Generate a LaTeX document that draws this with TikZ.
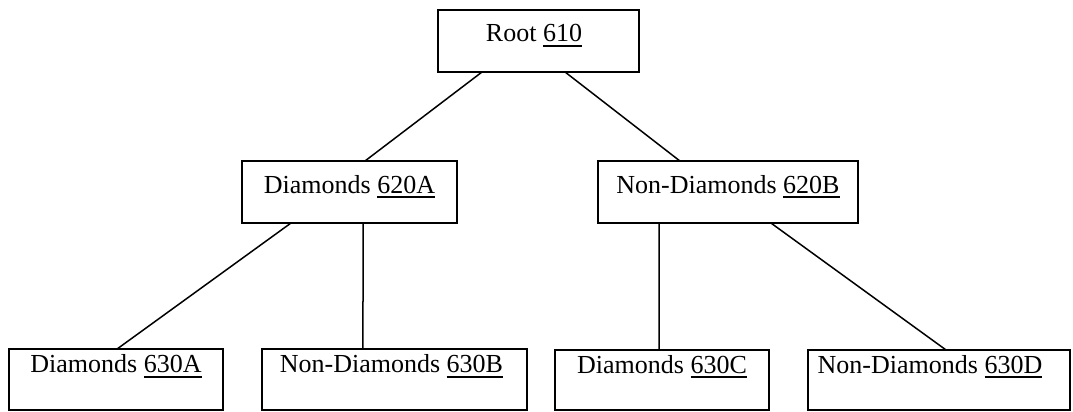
\documentclass[tikz,border=0pt]{standalone}
\usepackage{fontspec}
\setmainfont{Liberation Serif}
\usetikzlibrary{calc}

% underlined reference numeral
\newlength\refulw
\newcommand\refno[1]{\settowidth{\refulw}{#1}\rlap{\rule[-5pt]{\refulw}{1.6pt}}#1}

\tikzset{
  box/.style={draw, line width=1.8pt, rectangle, inner sep=0pt, outer sep=0pt,
    font=\fontsize{26pt}{30pt}\selectfont, text height=17pt},
  upper/.style={box, minimum height=62pt, text depth=15pt},
  lower/.style={box, minimum height=61pt, text depth=31pt},
  link/.style={line width=1.5pt},
}

\begin{document}
\begin{tikzpicture}[x=1pt, y=-1pt]
  \useasboundingbox (0,0) rectangle (1073,412);

  % tree nodes (a trailing kern nudges a label left of the box centre)
  \node[upper, minimum width=201pt] (root) at (538.5,41)  {Root \refno{610}\hspace*{9pt}};
  \node[upper, minimum width=215pt] (a620) at (349.5,192) {Diamonds \refno{620A}};
  \node[upper, minimum width=260pt] (b620) at (728,192)   {Non-Diamonds \refno{620B}};
  \node[lower, minimum width=214pt] (a630) at (116,379.5) {Diamonds \refno{630A}};
  \node[lower, minimum width=265pt] (b630) at (394.5,379.5) {Non-Diamonds \refno{630B}\hspace*{6pt}};
  \node[lower, minimum width=214pt, minimum height=60pt] (c630) at (662,380) {Diamonds \refno{630C}};
  \node[lower, minimum width=262pt, minimum height=60pt] (d630) at (939,380) {Non-Diamonds \refno{630D}\hspace*{18pt}};

  % branches
  \draw[link] ($(root.south west)!0.219!(root.south east)$) -- ($(a620.north west)!0.572!(a620.north east)$);
  \draw[link] ($(root.south west)!0.632!(root.south east)$) -- ($(b620.north west)!0.315!(b620.north east)$);
  \draw[link] ($(a620.south west)!0.228!(a620.south east)$) -- ($(a630.north west)!0.505!(a630.north east)$);
  \draw[link] ($(a620.south west)!0.563!(a620.south east)$) -- ($(b630.north west)!0.381!(b630.north east)$);
  \draw[link] ($(b620.south west)!0.235!(b620.south east)$) -- ($(c630.north west)!0.486!(c630.north east)$);
  \draw[link] ($(b620.south west)!0.665!(b620.south east)$) -- ($(d630.north west)!0.527!(d630.north east)$);
\end{tikzpicture}
\end{document}
